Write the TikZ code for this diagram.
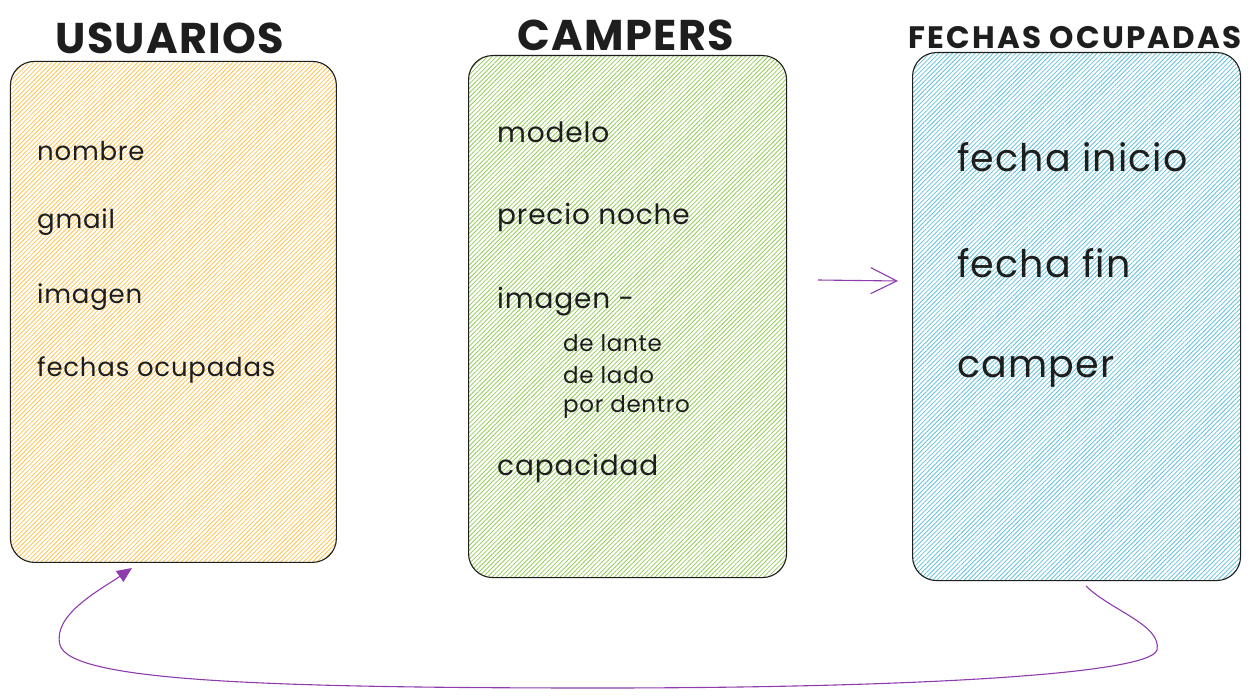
\documentclass[tikz,border=0pt]{standalone}
\usepackage{fontspec}
\setmainfont{Poppins}
\usetikzlibrary{patterns.meta,arrows.meta}
\definecolor{arrowc}{RGB}{142,60,172}
\definecolor{ink}{RGB}{30,30,30}
\definecolor{orangeh}{RGB}{252,196,80}
\definecolor{greenh}{RGB}{150,205,90}
\definecolor{blueh}{RGB}{100,195,215}
\begin{document}
\begin{tikzpicture}[x=1pt,y=-1pt,
  box/.style={draw=ink, line width=1.1pt, rounded corners=24pt, anchor=north west, inner sep=0pt},
  hatch/.style={pattern={Lines[angle=45,distance=3.2pt,line width=0.8pt]}, pattern color=#1},
  title/.style={text=ink, inner sep=0pt},
  item/.style={anchor=west, text=ink, inner sep=0pt},
  flow/.style={draw=arrowc, line width=1.1pt}]
\useasboundingbox (0,0) rectangle (1258,698);
\fill[white] (0,0) rectangle (1258,698);

\node[box, hatch=orangeh, minimum width=326pt, minimum height=501pt] (usu) at (10,61) {};
\node[box, hatch=greenh, minimum width=318pt, minimum height=522pt] (cam) at (468,55) {};
\node[box, hatch=blueh, minimum width=328pt, minimum height=528pt] (fec) at (912,52) {};

\node[title, font=\fontsize{43}{43}\selectfont\bfseries\addfontfeatures{LetterSpace=3}] (tusu) at (170,38) {USUARIOS};
\node[title, font=\fontsize{43}{43}\selectfont\bfseries\addfontfeatures{LetterSpace=3}] (tcam) at (626,35) {CAMPERS};
\node[title, font=\fontsize{31}{31}\selectfont\bfseries\addfontfeatures{LetterSpace=7}] (tfec) at (1075,38) {FECHAS OCUPADAS};

\begin{scope}[every node/.style={item, font=\fontsize{26}{26}\selectfont\addfontfeatures{LetterSpace=3}}]
\node (u1) at (37,151) {nombre};
\node (u2) at (37,222) {gmail};
\node (u3) at (37,297) {imagen};
\node (u4) at (37,370) {fechas ocupadas};
\end{scope}

\begin{scope}[every node/.style={item, font=\fontsize{28}{28}\selectfont\addfontfeatures{LetterSpace=3}}]
\node (c1) at (497,132) {modelo};
\node (c2) at (497,217) {precio noche};
\node (c3) at (497,302) {imagen -};
\node (c7) at (497,468) {capacidad};
\end{scope}
\begin{scope}[every node/.style={item, font=\fontsize{23}{23}\selectfont\addfontfeatures{LetterSpace=3}}]
\node (c4) at (563,343) {de lante};
\node (c5) at (563,375) {de lado};
\node (c6) at (563,407) {por dentro};
\end{scope}

\begin{scope}[every node/.style={item, font=\fontsize{38}{38}\selectfont\addfontfeatures{LetterSpace=3}}]
\node (f1) at (957,157) {fecha inicio};
\node (f2) at (957,263) {fecha fin};
\node (f3) at (957,372) {camper};
\end{scope}

\coordinate (a1) at (818,280);
\coordinate (a2) at (898,281);
\draw[flow, -{Straight Barb[length=26pt,width=26pt,line width=1.1pt]}] (a1) -- (a2);

\coordinate (b1) at (1086,586);
\coordinate (b2) at (132,568);
\draw[flow, -{Triangle[length=15pt,width=13pt]}] (b1)
  .. controls (1110,610) and (1162,625) .. (1157,650)
  .. controls (1150,675) and (900,688) .. (600,688)
  .. controls (250,688) and (70,680) .. (60,645)
  .. controls (52,615) and (100,590) .. (b2);
\end{tikzpicture}
\end{document}
